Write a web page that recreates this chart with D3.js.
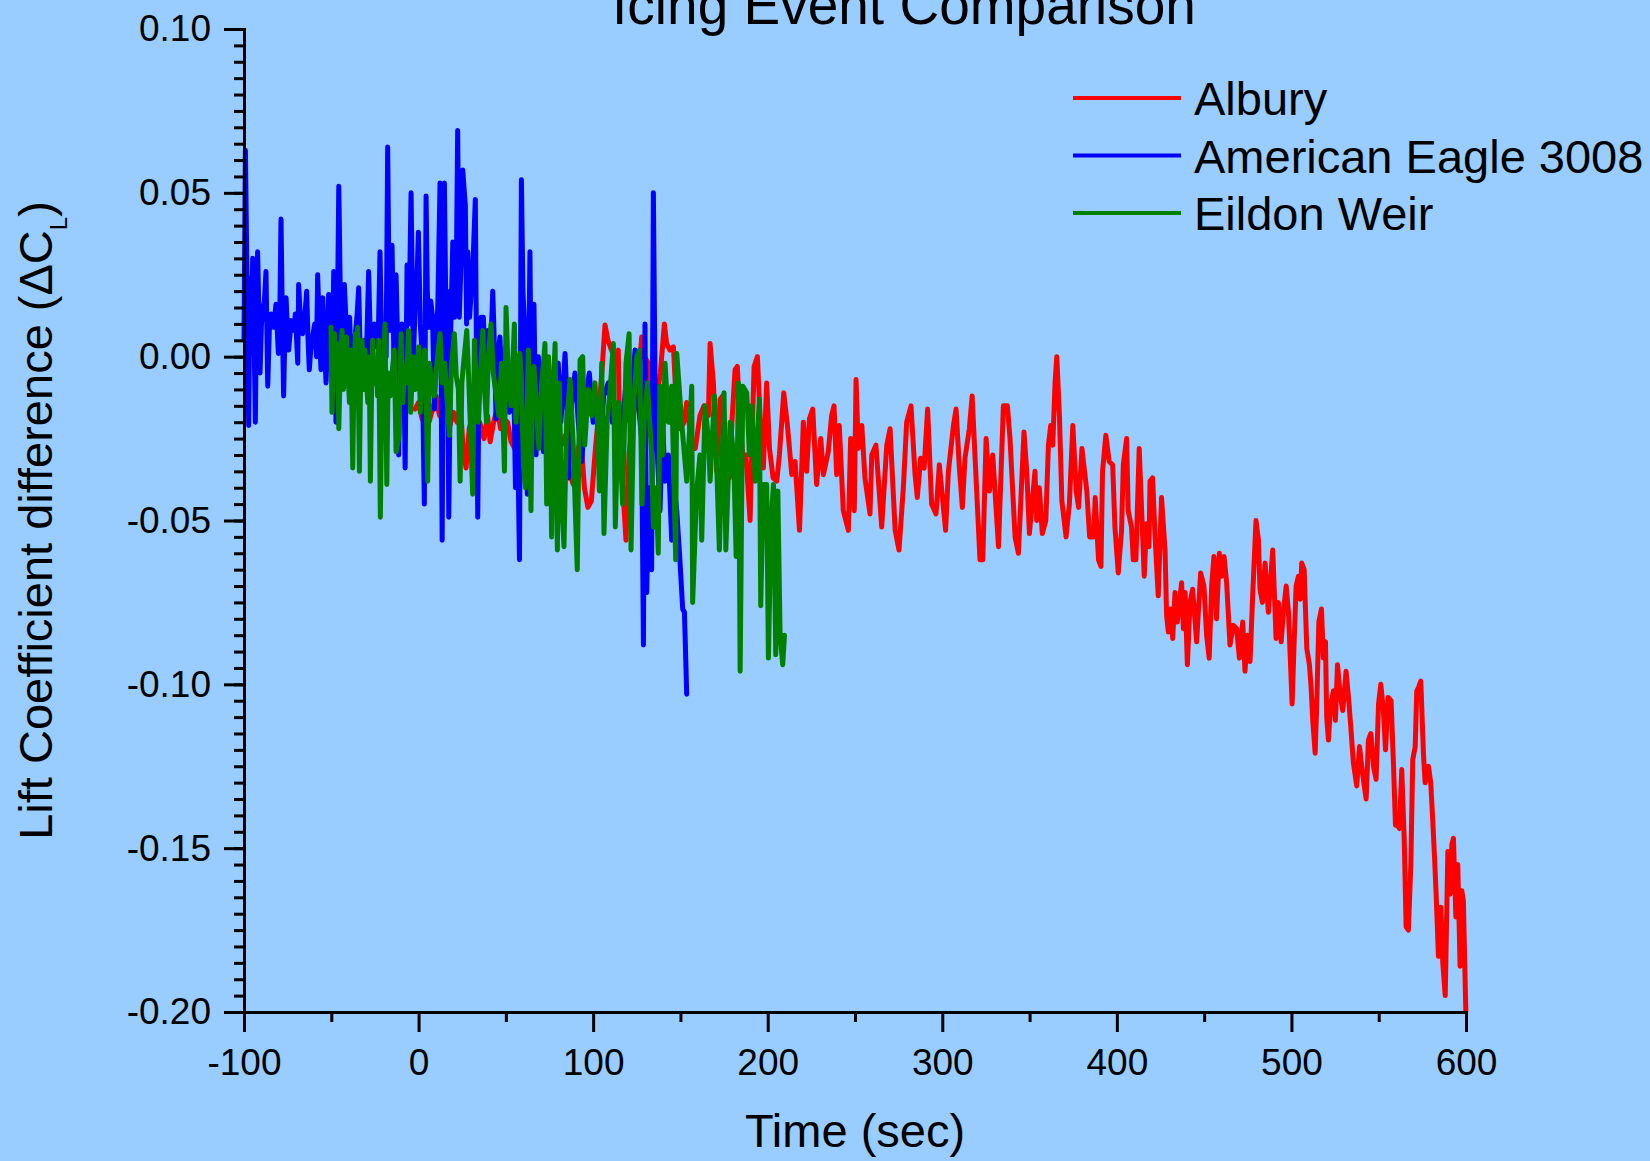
<!DOCTYPE html>
<html>
<head>
<meta charset="utf-8">
<script src="https://cdn.jsdelivr.net/npm/d3@7"></script>
<style>
  body { margin: 0; background: #99ccff; }
  svg { display: block; font-family: "Liberation Sans", Arial, sans-serif; }
</style>
</head>
<body>
<div id="chart"></div>
<script>
// [time (sec), delta CL]
const albury = [
  [-2,-0.016],[0,-0.014],[2,-0.019],[4,-0.015],[6,-0.020],[8,-0.016],[10,-0.012],[12,-0.018],[14,-0.016],[16,-0.015],
  [18,-0.021],[20,-0.017],[22,-0.020],[24,-0.015],[25.5,-0.028],[27.2,-0.034],[29,-0.022],[31,-0.018],[33,-0.024],[35,-0.020],
  [37.5,-0.025],[39.5,-0.018],[41,-0.026],[43,-0.020],[45,-0.016],[47,-0.022],[49,-0.019],[51,-0.020],[53,-0.026],[55,-0.028],
  [57,-0.018],[60,-0.014],[63,-0.020],[66,-0.016],[69,-0.022],[72,-0.018],[75,-0.025],[78,-0.020],[81,-0.028],[84,-0.024],
  [86.7,-0.036],[88.6,-0.039],[90.5,-0.030],[93,-0.025],[95,-0.040],[97,-0.046],[99,-0.044],[101,-0.030],[103,-0.018],[105,-0.005],
  [106.8,0.0097],[108.5,0.005],[110.5,0.002],[112.5,0.000],[114.4,0.002],[115.4,-0.031],[117,-0.040],[118.8,-0.056],[120.5,-0.030],[122.5,-0.020],
  [124.5,-0.012],[126.3,-0.005],[127.8,0.006],[129.5,0.000],[131.6,-0.002],[132.6,-0.021],[134.5,-0.015],[136.5,-0.012],[138.5,-0.005],[140.8,0.010],
  [142.1,0.004],[144,0.002],[146,0.003],[147.9,-0.018],[150,-0.022],[152,-0.020],[153.6,-0.014],[156,-0.025],[158.5,-0.028],[161.2,-0.018],
  [163.5,-0.015],[166,-0.018],[167,0.004],[168.9,-0.008],[170.8,-0.035],[172.7,-0.013],[174.2,-0.012],[176,-0.028],[178.1,-0.037],[179.5,-0.020],
  [181.3,-0.004],[182.6,-0.003],[184.2,-0.021],[186.1,-0.032],[187.5,-0.030],[189.9,-0.050],[191.3,-0.020],[192.2,-0.003],[194.1,0.000],[195.6,-0.018],
  [197.5,-0.034],[199.4,-0.008],[201,-0.028],[203.1,-0.037],[205.2,-0.038],[206.7,-0.030],[209.2,-0.011],[211.3,-0.021],[213.8,-0.036],[215.7,-0.032],
  [218.2,-0.053],[220.4,-0.020],[222.3,-0.035],[223.9,-0.019],[225.8,-0.016],[228,-0.039],[230.4,-0.025],[231.9,-0.036],[234.7,-0.029],[236.6,-0.018],
  [238,-0.015],[239.5,-0.036],[241,-0.021],[243.3,-0.047],[246.2,-0.053],[247.5,-0.025],[249.6,-0.047],[250.6,-0.007],[251.9,-0.028],[253.9,-0.021],
  [255.7,-0.037],[258.6,-0.048],[259.6,-0.030],[262,-0.027],[265.3,-0.052],[268.2,-0.027],[270.1,-0.022],[273,-0.053],[275.2,-0.059],[277.7,-0.040],
  [279.6,-0.020],[282.1,-0.015],[284.4,-0.036],[285.7,-0.043],[287.6,-0.031],[289.6,-0.034],[291.6,-0.016],[293.9,-0.045],[296.4,-0.048],[298.3,-0.033],
  [301.9,-0.053],[303.5,-0.035],[306.4,-0.021],[307.9,-0.016],[309.8,-0.034],[311.5,-0.046],[313,-0.031],[315.5,-0.022],[317.1,-0.012],[318.8,-0.031],
  [321.6,-0.062],[323.2,-0.062],[325.1,-0.025],[327,-0.041],[328.9,-0.030],[332.2,-0.058],[335,-0.015],[337.3,-0.015],[338.8,-0.025],[341.7,-0.055],
  [343.6,-0.060],[346.8,-0.023],[348.4,-0.035],[349.9,-0.054],[353.1,-0.035],[354.1,-0.050],[355.6,-0.040],[357.3,-0.054],[359.3,-0.050],[360.8,-0.027],
  [362.1,-0.021],[363.3,-0.027],[364.6,-0.008],[365.6,0.000],[367.1,-0.018],[368.5,-0.044],[370.9,-0.055],[372.8,-0.045],[374.8,-0.021],[376.7,-0.041],
  [378.1,-0.046],[380,-0.028],[382.8,-0.041],[384.4,-0.055],[386.7,-0.055],[387.6,-0.043],[389.5,-0.062],[390.9,-0.064],[391.8,-0.035],[393.7,-0.024],
  [395.6,-0.032],[397.6,-0.033],[398.9,-0.052],[400.8,-0.066],[402.7,-0.053],[403.7,-0.033],[405.6,-0.025],[406.5,-0.047],[408.4,-0.052],[409.4,-0.062],
  [410.9,-0.062],[412.8,-0.028],[414.2,-0.047],[415.7,-0.067],[417,-0.051],[418.4,-0.058],[419,-0.038],[420.5,-0.037],[421.8,-0.054],[423.7,-0.073],
  [425.6,-0.043],[427.6,-0.059],[428.5,-0.079],[429.5,-0.084],[430.8,-0.077],[432,-0.086],[433.3,-0.072],[434.6,-0.081],[435.8,-0.075],[437.1,-0.069],
  [438.1,-0.083],[439.1,-0.072],[440.4,-0.094],[441.9,-0.075],[443.4,-0.071],[445.7,-0.087],[448,-0.066],[449.9,-0.070],[451.4,-0.085],[452.9,-0.092],
  [454.3,-0.070],[455.6,-0.061],[457.1,-0.080],[458.7,-0.060],[460,-0.067],[461.4,-0.061],[462.9,-0.069],[464.8,-0.088],[466.7,-0.082],[468.6,-0.083],
  [470.2,-0.092],[472.1,-0.081],[473.4,-0.096],[474.8,-0.085],[476.3,-0.093],[477.8,-0.073],[479.7,-0.050],[481.1,-0.056],[482,-0.071],[483.4,-0.075],
  [484.9,-0.063],[486.8,-0.078],[489.3,-0.059],[491.2,-0.086],[492.5,-0.075],[494.1,-0.087],[495.4,-0.078],[497,-0.070],[498.3,-0.078],[500.4,-0.106],
  [501.5,-0.088],[502.7,-0.070],[504,-0.067],[505,-0.074],[505.9,-0.063],[507.3,-0.065],[508.8,-0.089],[510.3,-0.094],[511.3,-0.101],[512.2,-0.111],
  [513.6,-0.121],[514.5,-0.106],[515.7,-0.081],[517.2,-0.077],[518.3,-0.092],[519.5,-0.087],[520.2,-0.110],[521.2,-0.117],[522.5,-0.106],[524.1,-0.102],
  [525.2,-0.111],[526.4,-0.094],[527.9,-0.103],[529.4,-0.108],[531.3,-0.096],[532.7,-0.104],[534,-0.113],[535.5,-0.124],[537.4,-0.131],[539,-0.119],
  [540.7,-0.127],[542.8,-0.135],[544.1,-0.117],[545.5,-0.115],[547,-0.125],[548.5,-0.129],[549.9,-0.106],[551.2,-0.100],[552.7,-0.108],[553.9,-0.120],
  [555.4,-0.104],[557.1,-0.105],[558.5,-0.125],[559.6,-0.143],[560.7,-0.143],[561.9,-0.144],[563.2,-0.126],[564.6,-0.147],[565.7,-0.174],[567,-0.175],
  [568.4,-0.155],[569.5,-0.123],[570.9,-0.119],[571.8,-0.102],[572.8,-0.101],[574.1,-0.099],[575.7,-0.122],[576.6,-0.130],[578.5,-0.125],[579.8,-0.130],
  [581,-0.142],[582,-0.153],[582.9,-0.164],[584.2,-0.183],[585.6,-0.168],[586.7,-0.185],[588.1,-0.195],[589.6,-0.151],[590.9,-0.164],[591.9,-0.149],
  [592.8,-0.147],[594.2,-0.171],[595.3,-0.155],[596.6,-0.186],[597.6,-0.163],[598.5,-0.166],[599.9,-0.200]
];

const americanEagle = [
  [-100,0.005],[-99.2,0.063],[-98.2,0.020],[-97.3,-0.021],[-96.6,0.024],[-95.8,0.010],[-95,0.030],[-94.2,0.005],[-93.5,-0.020],[-92.8,0.015],
  [-92.2,0.032],[-91.4,0.012],[-90.8,-0.005],[-90,0.010],[-89.3,0.014],[-88.3,0.017],[-87.4,0.026],[-86.4,-0.009],[-85.5,0.008],[-84.5,0.013],
  [-83,0.009],[-81.7,0.016],[-80.3,0.001],[-79.5,0.012],[-78.8,0.042],[-78,0.010],[-77.3,-0.012],[-76.6,0.006],[-75.9,0.018],[-75.1,0.008],
  [-74.4,0.002],[-73,0.011],[-71.5,0.008],[-70.6,0.013],[-69.2,-0.002],[-68.7,0.022],[-67.5,0.010],[-66.4,0.007],[-65.2,0.012],[-64.1,0.020],
  [-63.3,0.005],[-62.6,-0.004],[-61.5,0.004],[-60.7,0.006],[-59.5,0.010],[-58.5,0.000],[-57.8,0.025],[-56.8,0.008],[-55.9,-0.004],[-54.9,0.018],
  [-54,0.004],[-53,-0.008],[-52.2,0.006],[-51.5,0.019],[-50.2,0.010],[-49.4,0.000],[-48.6,0.026],[-47.3,-0.020],[-46.5,0.012],[-45.7,0.052],
  [-44.8,0.018],[-43.8,0.001],[-43,0.010],[-42.5,0.022],[-41.5,0.010],[-40.6,0.006],[-39.5,0.012],[-38.3,-0.009],[-37.2,0.004],[-36.2,0.007],
  [-35.3,0.012],[-34.3,0.021],[-33,-0.009],[-31.5,0.005],[-30,-0.002],[-28.6,0.026],[-27.2,-0.004],[-26.2,0.004],[-25.3,0.010],[-24,0.003],
  [-23,0.008],[-22.1,0.032],[-21.2,0.006],[-20.5,-0.017],[-19.5,0.005],[-18.6,0.000],[-17.7,0.064],[-16.9,0.020],[-16.3,0.008],[-15.2,0.034],
  [-13.9,-0.008],[-12.9,0.025],[-12,0.005],[-11.4,-0.030],[-10.5,0.002],[-9.5,0.010],[-8.5,0.001],[-7.7,-0.034],[-6.6,0.028],[-5.5,0.010],
  [-4.3,0.050],[-3,-0.001],[-2,0.015],[-1,0.022],[-0.1,0.038],[1,0.010],[2,0.001],[3.3,-0.045],[4.3,0.049],[5,0.020],
  [5.8,0.009],[7,0.017],[8,0.012],[9.1,-0.016],[10,0.005],[11,0.015],[12.3,0.053],[13.5,-0.056],[14.8,0.053],[15.8,0.006],
  [16.5,0.020],[17.3,-0.049],[18.5,0.010],[19.6,0.035],[20.6,0.012],[21.5,0.018],[22.4,0.069],[23.3,0.012],[24.4,0.030],[25.3,0.057],
  [26.8,0.046],[27.5,0.010],[28.2,0.032],[29.2,0.012],[30.2,0.020],[31,0.026],[32.5,0.048],[33.9,-0.049],[34.8,0.005],[35.8,0.012],
  [37.1,0.012],[38.5,-0.008],[39.8,0.008],[41,-0.003],[42.5,0.020],[43.5,0.002],[44.4,-0.019],[45.5,0.000],[46.6,0.006],[47.8,-0.010],
  [48.8,-0.024],[50,0.003],[51,-0.006],[52,-0.017],[53.5,-0.010],[54.5,-0.005],[55.5,-0.040],[56.5,-0.015],[57.8,-0.062],[58.9,0.054],
  [59.8,0.020],[61,0.006],[62.3,-0.042],[63.8,0.032],[64.8,-0.030],[66.1,0.016],[67.3,-0.030],[68.6,0.000],[70,-0.012],[71.5,-0.029],
  [73,-0.010],[74.3,-0.002],[75.8,-0.020],[77.2,-0.014],[78.5,-0.008],[80,-0.002],[81.5,-0.020],[82.8,-0.010],[83.9,0.001],[84.8,-0.010],
  [85.8,-0.037],[87.5,-0.015],[89.6,-0.005],[91.5,-0.020],[93.5,-0.032],[95.8,-0.012],[97.8,-0.005],[100,-0.020],[102,-0.015],[104,-0.030],
  [106,-0.012],[108.7,-0.008],[111,-0.020],[113.5,-0.015],[116,-0.025],[118.5,-0.010],[121,-0.020],[124,0.002],[126,-0.015],[127.8,-0.025],
  [128.8,-0.088],[129.7,0.010],[130.7,-0.072],[131.8,-0.040],[132.6,-0.060],[133.5,-0.065],[134.5,0.050],[135.5,-0.010],[136.8,-0.030],[138.3,-0.047],
  [139.8,-0.020],[141.2,-0.038],[143.1,-0.030],[145,-0.056],[146.5,-0.040],[147.9,-0.047],[149.8,-0.063],[151.3,-0.077],[152.3,-0.078],[153.6,-0.103]
];

const eildonWeir = [
  [-50.2,0.009],[-49.6,-0.017],[-48.8,0.000],[-48.2,0.007],[-47.2,-0.005],[-46.5,0.004],[-45.7,-0.022],[-44.8,-0.002],[-43.8,0.008],[-43,-0.010],
  [-42.2,0.000],[-41.2,0.006],[-40.4,-0.005],[-39.6,-0.014],[-38.7,0.002],[-37.7,-0.034],[-37,-0.005],[-36.2,0.007],[-35.5,-0.008],[-34.9,0.009],
  [-33.9,-0.035],[-33.1,-0.004],[-32.4,0.005],[-31.5,-0.010],[-30.7,0.002],[-29.9,-0.006],[-29.1,-0.014],[-28.3,0.000],[-27.6,-0.038],[-26.9,-0.010],
  [-26.3,0.005],[-25.2,-0.008],[-24.3,-0.002],[-23.5,-0.012],[-22.8,0.005],[-21.9,-0.049],[-21,-0.010],[-20,-0.002],[-19.2,0.010],[-18.2,-0.039],
  [-17.4,-0.005],[-16.2,-0.012],[-15,-0.004],[-13.9,0.002],[-12.9,-0.029],[-11.4,-0.025],[-10,0.007],[-9,-0.014],[-8,-0.003],[-7,-0.008],
  [-5.7,0.008],[-4.5,-0.017],[-3.2,0.000],[-2,-0.010],[-0.8,-0.002],[0.1,0.003],[1,-0.017],[2.2,-0.005],[3.5,0.002],[4.3,-0.010],
  [5.2,-0.038],[6.2,-0.002],[7.5,-0.008],[9,-0.012],[10.5,-0.002],[12.3,0.007],[13.5,-0.008],[15,-0.002],[16.2,-0.012],[17.7,-0.024],
  [18.8,-0.003],[20.5,0.007],[21.6,-0.006],[22.8,-0.010],[23.8,-0.038],[24.8,-0.008],[25.8,-0.002],[27.6,0.008],[28.6,-0.005],[29.6,-0.020],
  [31,-0.042],[32,0.005],[33,-0.008],[34.2,-0.020],[35.5,-0.005],[36.8,0.008],[37.8,-0.010],[38.9,-0.020],[40,0.000],[41.5,0.010],
  [42.8,-0.005],[44.5,-0.012],[46,-0.018],[47.5,-0.002],[49.2,-0.035],[50.1,0.015],[51.5,-0.008],[53,-0.015],[54.9,0.010],[55.8,-0.020],
  [57,-0.005],[58.1,0.001],[59,-0.012],[60.1,-0.033],[61.2,-0.040],[62.9,0.002],[64.4,-0.047],[65.3,-0.005],[66.1,-0.003],[67.5,-0.015],
  [68.9,-0.028],[70.5,-0.008],[71.5,-0.002],[72.4,0.004],[73.4,-0.045],[74.4,0.000],[75.3,-0.012],[76.2,-0.055],[77.2,-0.010],[78.2,0.004],
  [79.5,-0.059],[80.6,-0.008],[81.8,-0.042],[83.3,-0.058],[84.8,-0.020],[86.8,-0.007],[88.6,-0.027],[90.9,-0.065],[92.5,-0.001],[94,0.000],
  [95.2,-0.027],[97.2,-0.010],[99.2,-0.018],[101,-0.008],[102.5,-0.020],[103.6,-0.041],[104.9,-0.002],[106.2,-0.054],[108,-0.020],[109.7,-0.010],
  [111.6,0.004],[112.7,-0.052],[114.5,-0.014],[116.9,-0.045],[118.8,-0.002],[120.6,0.007],[121.7,-0.059],[123.4,-0.013],[125,0.000],[126.5,0.002],
  [128,-0.045],[129.3,-0.019],[131.1,-0.008],[133.5,-0.030],[134.5,-0.052],[136,-0.040],[137.3,-0.060],[138.3,-0.009],[139.8,-0.030],[141.2,-0.002],
  [143.1,-0.020],[145,-0.009],[147.3,-0.062],[147.9,0.001],[150.7,-0.020],[153.6,-0.038],[155.5,-0.020],[156.5,-0.009],[157,-0.075],[159.3,-0.041],
  [161.2,-0.030],[162.2,-0.056],[164.1,-0.015],[166,-0.025],[167,-0.038],[169.5,-0.012],[172.3,-0.059],[175,-0.011],[176,-0.059],[178.5,-0.020],
  [180.5,-0.030],[181.9,-0.061],[183.2,-0.008],[184.2,-0.096],[185.7,-0.009],[188,-0.011],[189.5,-0.030],[190.9,-0.015],[192.8,-0.038],[195.2,-0.013],
  [196,-0.076],[197.5,-0.039],[199.4,-0.039],[200.4,-0.092],[201.9,-0.050],[203.3,-0.039],[204.6,-0.091],[205.8,-0.041],[207.1,-0.085],[208.6,-0.094],
  [209.6,-0.085]
];

const seriesNames = ["Albury", "American Eagle 3008", "Eildon Weir"];
const seriesColors = ["#ff0000", "#0000ff", "#008000"];
const xMajorTicks = [-100, 0, 100, 200, 300, 400, 500, 600];
const xMinorTicks = [-50, 50, 150, 250, 350, 450, 550];
const yMajorTicks = [0.10, 0.05, 0.00, -0.05, -0.10, -0.15, -0.20];
const yMinorTicks = d3.range(-0.2, 0.1001, 0.005);

const width = 1650, height = 1161;
const margin = { left: 244, right: 184, top: 29, bottom: 149 };

const svg = d3.select("#chart").append("svg")
  .attr("width", width)
  .attr("height", height);

const x = d3.scaleLinear().domain([-100, 600]).range([margin.left, width - margin.right]);
const y = d3.scaleLinear().domain([-0.2, 0.1]).range([height - margin.bottom, margin.top]);

// series, drawn in legend order
const line = d3.line().x(d => x(d[0])).y(d => y(d[1]));
[albury, americanEagle, eildonWeir].forEach((data, i) => {
  svg.append("path")
    .datum(data)
    .attr("d", line)
    .attr("fill", "none")
    .attr("stroke", seriesColors[i])
    .style("stroke-width", "5px")
    .attr("stroke-linejoin", "round")
    .attr("stroke-linecap", "round");
});

// axes
const xAxisY = y(-0.2);
svg.append("g")
  .attr("transform", `translate(0,${xAxisY})`)
  .call(d3.axisBottom(x).tickValues(xMinorTicks).tickSize(10).tickFormat(""));
svg.append("g")
  .attr("class", "xaxis")
  .attr("transform", `translate(0,${xAxisY})`)
  .call(d3.axisBottom(x).tickValues(xMajorTicks).tickSize(20).tickSizeOuter(0).tickPadding(17)
    .tickFormat(d => String(d)));

svg.append("g")
  .attr("transform", `translate(${x(-100)},0)`)
  .call(d3.axisLeft(y).tickValues(yMinorTicks).tickSize(10).tickFormat(""));
svg.append("g")
  .attr("class", "yaxis")
  .attr("transform", `translate(${x(-100)},0)`)
  .call(d3.axisLeft(y).tickValues(yMajorTicks).tickSize(20).tickSizeOuter(0).tickPadding(13)
    .tickFormat(d => d.toFixed(2)));

svg.selectAll(".domain").attr("stroke", "#000").attr("stroke-width", 3);
svg.selectAll(".tick line").attr("stroke", "#000").attr("stroke-width", 3);
svg.selectAll(".tick text").attr("fill", "#000").style("font-size", "37px")
  .style("font-family", "'Liberation Sans', Arial, sans-serif");

// titles
svg.append("text")
  .attr("x", 904).attr("y", 24)
  .attr("text-anchor", "middle")
  .style("font-size", "55px")
  .text("Icing Event Comparison");

svg.append("text")
  .attr("x", 855).attr("y", 1147)
  .attr("text-anchor", "middle")
  .style("font-size", "47px")
  .text("Time (sec)");

const yTitle = svg.append("text")
  .attr("transform", `translate(52,${(y(0.1) + y(-0.2)) / 2}) rotate(-90)`)
  .attr("text-anchor", "middle")
  .style("font-size", "47px");
yTitle.append("tspan").text("Lift Coefficient difference (\u0394C");
yTitle.append("tspan").attr("dy", 15).style("font-size", "24px").text("L");
yTitle.append("tspan").attr("dy", -15).text(")");

// legend
const legend = svg.append("g");
seriesNames.forEach((name, i) => {
  const ly = 98 + i * 57.5;
  legend.append("line")
    .attr("x1", 1073).attr("x2", 1181)
    .attr("y1", ly).attr("y2", ly)
    .attr("stroke", seriesColors[i])
    .style("stroke-width", "4px");
  legend.append("text")
    .attr("x", 1194).attr("y", ly + 17)
    .style("font-size", "47px")
    .text(name);
});
</script>
</body>
</html>
